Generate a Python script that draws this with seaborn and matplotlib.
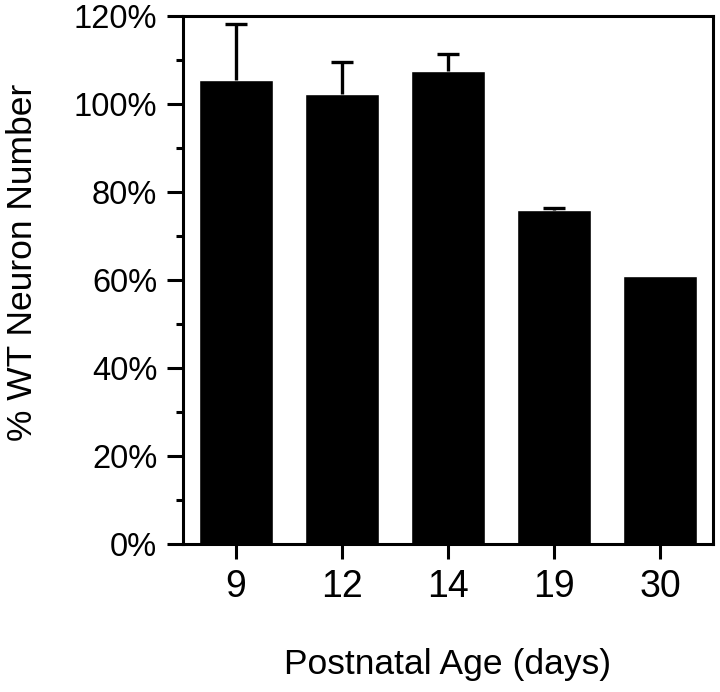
import numpy as np
import seaborn as sns
import matplotlib.pyplot as plt
from matplotlib.ticker import MultipleLocator, FuncFormatter

# Data
ages = ["9", "12", "14", "19", "30"]
pct_wt = [105.5, 102.3, 107.5, 75.8, 60.8]
err_up = [12.6, 7.2, 3.9, 0.6, np.nan]  # no visible error bar at day 30

sns.set_style("ticks")
plt.rcParams["font.family"] = ["Liberation Sans", "DejaVu Sans"]
plt.rcParams["text.color"] = "black"
plt.rcParams["axes.labelcolor"] = "black"
plt.rcParams["xtick.color"] = "black"
plt.rcParams["ytick.color"] = "black"

fig = plt.figure(figsize=(7.2, 6.92), dpi=100)
ax = fig.add_axes([183 / 720, 1 - 544 / 692, 530 / 720, 528 / 692])

sns.barplot(
    x=ages,
    y=pct_wt,
    color="black",
    saturation=1,
    width=0.7,
    errorbar=None,
    ax=ax,
)
# upper-only error bars
_, caps, _ = ax.errorbar(
    np.arange(len(ages)),
    pct_wt,
    yerr=[np.zeros(len(ages)), err_up],
    fmt="none",
    ecolor="black",
    elinewidth=2.4,
    capsize=7.7,
    capthick=2.4,
)
caps[0].set_visible(False)

ax.set_xlim(-0.5, len(ages) - 0.5)
ax.set_ylim(0, 120)
ax.yaxis.set_major_locator(MultipleLocator(20))
ax.yaxis.set_minor_locator(MultipleLocator(10))
ax.yaxis.set_major_formatter(FuncFormatter(lambda v, p: f"{v:.0f}%"))

for side in ["left", "bottom", "top", "right"]:
    ax.spines[side].set_visible(True)
    ax.spines[side].set_linewidth(2.2)
    ax.spines[side].set_color("black")

ax.tick_params(axis="y", which="major", length=11.5, width=2.2, pad=7,
               labelsize=23.5, direction="out")
ax.tick_params(axis="y", which="minor", length=5, width=2.2, direction="out")
ax.tick_params(axis="x", length=11, width=2.2, pad=7, labelsize=27)

ax.set_xlabel("Postnatal Age (days)", fontsize=25.5)
ax.set_ylabel("% WT Neuron Number", fontsize=25.5)
ax.xaxis.set_label_coords(0.5, -0.197)
ax.yaxis.set_label_coords(-0.272, 0.534)

plt.savefig("out.png", dpi=100)
